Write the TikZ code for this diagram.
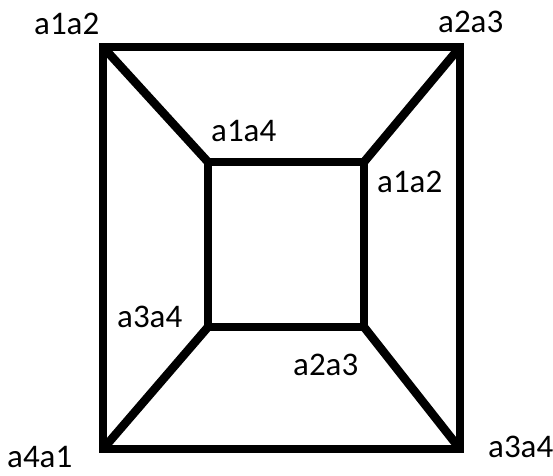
\documentclass[tikz,border=0pt]{standalone}
\usepackage{fontspec}
\setmainfont{Carlito}
\usetikzlibrary{calc}

\tikzset{
  edge/.style={line width=8.5pt,black},
  lbl/.style={anchor=base west,inner sep=0pt,font=\fontsize{33}{40}\selectfont}
}

\begin{document}
\begin{tikzpicture}[x=1pt,y=1pt]
\useasboundingbox (0,0) rectangle (553,475);
% outer square
\coordinate (oNW) at (103,428);
\coordinate (oNE) at (460,428);
\coordinate (oSE) at (460,26);
\coordinate (oSW) at (103,26);
% inner square
\coordinate (iNW) at (208,313);
\coordinate (iNE) at (364,313);
\coordinate (iSE) at (364,148);
\coordinate (iSW) at (208,148);
\draw[edge] (oNW) -- (oNE) -- (oSE) -- (oSW) -- cycle;
\draw[edge] (iNW) -- (iNE) -- (iSE) -- (iSW) -- cycle;
\draw[edge] (oNW) -- (iNW);
\draw[edge] (oNE) -- (iNE);
\draw[edge] (oSE) -- (iSE);
\draw[edge] (oSW) -- (iSW);
% labels
\node[lbl] (lNW) at (34,440) {a1a2};
\node[lbl] (lNE) at (438,442) {a2a3};
\node[lbl] (lSW) at (7,8) {a4a1};
\node[lbl] (lSE) at (488,18) {a3a4};
\node[lbl] (liNW) at (211,334) {a1a4};
\node[lbl] (liNE) at (377,283) {a1a2};
\node[lbl] (liSW) at (117,148) {a3a4};
\node[lbl] (liSE) at (293,100) {a2a3};
\end{tikzpicture}
\end{document}
